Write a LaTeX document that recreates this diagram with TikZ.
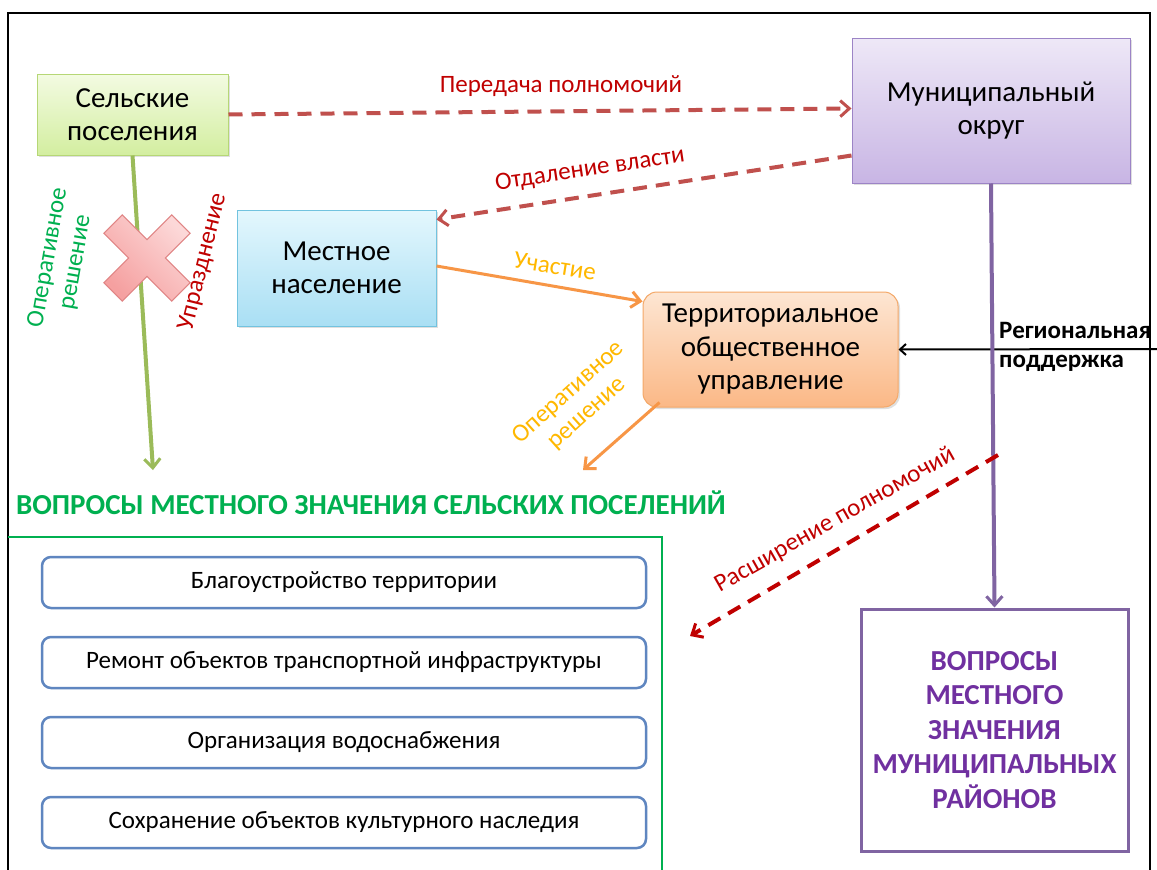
\documentclass[tikz,border=0pt]{standalone}
\usepackage{fontspec}
\setmainfont{Carlito}
\usetikzlibrary{arrows.meta,shadows}
\definecolor{sgTop}{HTML}{F3FBE2}
\definecolor{sgBot}{HTML}{D3EEA0}
\definecolor{sgBd}{HTML}{B6D776}
\definecolor{moTop}{HTML}{EEE8F7}
\definecolor{moBot}{HTML}{C8B5E4}
\definecolor{moBd}{HTML}{9C84C6}
\definecolor{mnTop}{HTML}{E4F7FD}
\definecolor{mnBot}{HTML}{A9DFF4}
\definecolor{mnBd}{HTML}{72C3DF}
\definecolor{toTop}{HTML}{FDE6D3}
\definecolor{toBot}{HTML}{FBB886}
\definecolor{toBd}{HTML}{F4A868}
\definecolor{crTop}{HTML}{FCD8D8}
\definecolor{crBot}{HTML}{F5A0A0}
\definecolor{crBd}{HTML}{E08585}
\definecolor{dred}{HTML}{C0504D}
\definecolor{tred}{HTML}{C00000}
\definecolor{lgreen}{HTML}{9BBB59}
\definecolor{tgreen}{HTML}{00B050}
\definecolor{oarrow}{HTML}{F79646}
\definecolor{gold}{HTML}{FFB800}
\definecolor{purp}{HTML}{8064A2}
\definecolor{tpurp}{HTML}{7030A0}
\definecolor{iblue}{HTML}{5F86C0}
\tikzset{
  mainbox/.style={draw, line width=1pt, align=center, inner sep=2pt,
    font=\fontsize{29}{33.5}\selectfont,
    drop shadow={shadow xshift=2pt, shadow yshift=-2pt, opacity=0.25}},
  item/.style={draw=iblue, line width=2.5pt, rounded corners=9pt, fill=white,
    minimum width=604pt, minimum height=51pt, font=\fontsize{25}{28}\selectfont},
  lbl/.style={font=\fontsize{25}{28}\selectfont, align=center, inner sep=0pt},
  dline/.style={line width=4pt, dash pattern=on 14pt off 9pt},
  barb/.style={-{Straight Barb[length=9pt,width=16pt,line width=3pt]}},
}
\begin{document}
\begin{tikzpicture}[x=1pt,y=-1pt]
\useasboundingbox (0,0) rectangle (1157,870);
\fill[white] (0,0) rectangle (1157,870);
\draw[line width=1.5pt] (8,13) rectangle (1150,885);

% main boxes
\node[mainbox, top color=sgTop, bottom color=sgBot, draw=sgBd,
  minimum width=191pt, minimum height=81pt] (sp) at (132.5,114.5) {Сельские\\поселения};
\node[mainbox, top color=moTop, bottom color=moBot, draw=moBd,
  minimum width=278pt, minimum height=145pt] (mo) at (991,110.5) {Муниципальный\\округ};
\node[mainbox, top color=mnTop, bottom color=mnBot, draw=mnBd,
  minimum width=199pt, minimum height=116pt] (mn) at (336.5,268) {Местное\\население};
\node[mainbox, top color=toTop, bottom color=toBot, draw=toBd, rounded corners=14pt,
  minimum width=255pt, minimum height=115pt] (tos) at (770.5,349.5) {Территориальное\\общественное\\управление};

\node[draw=purp, line width=3pt, minimum width=267pt, minimum height=242pt,
  align=center, text=tpurp, font=\fontsize{29}{34.5}\selectfont\bfseries] (mr) at (994.5,730)
  {ВОПРОСЫ\\МЕСТНОГО\\ЗНАЧЕНИЯ\\МУНИЦИПАЛЬНЫХ\\РАЙОНОВ};

% settlement issues
\node[text=tgreen, font=\fontsize{29}{32}\selectfont\bfseries, inner sep=0pt] (title) at (371,503)
  {ВОПРОСЫ МЕСТНОГО ЗНАЧЕНИЯ СЕЛЬСКИХ ПОСЕЛЕНИЙ};
\draw[tgreen, line width=2pt] (8,537) -- (662,537) -- (662,885);
\node[item] (i1) at (344,582.5) {Благоустройство территории};
\node[item] (i2) at (344,662.5) {Ремонт объектов транспортной инфраструктуры};
\node[item] (i3) at (344,742.5) {Организация водоснабжения};
\node[item] (i4) at (344,822.5) {Сохранение объектов культурного наследия};

% coordinates
\coordinate (gEnd) at (153,470);
\coordinate (oEnd) at (583,470);
\coordinate (rEdge) at (1157,349);
\coordinate (rsStart) at (998,455);
\coordinate (rsEnd) at (690,636);

% connectors
\draw[lgreen, line width=4pt, barb] (sp.south) -- (gEnd);
\draw[dred, dline, barb] (sp.east) -- ([yshift=2pt]mo.west);
\draw[dred, dline, barb] ([yshift=28pt]mo.south west) -- ([yshift=-10pt]mn.north east);
\draw[oarrow, line width=3pt, barb] ([yshift=2pt]mn.east) -- ([yshift=-10pt]tos.north west);
\draw[oarrow, line width=3pt, barb] ([xshift=17pt,yshift=5pt]tos.south west) -- (oEnd);
\draw[black, line width=2pt, -{Straight Barb[length=6pt,width=11pt,line width=2pt]}] (rEdge) -- (tos.east);
\draw[purp, line width=4pt, barb] (mo.south) -- (mr.north);
\draw[tred, dline, barb] (rsStart) -- (rsEnd);

% cross
\begin{scope}[shift={(147,258)}, rotate=45]
\draw[crBd, line width=1pt, top color=crTop, bottom color=crBot, shading angle=-45]
  (13,48) -- (13,13) -- (48,13) -- (48,-13) -- (13,-13) -- (13,-48) -- (-13,-48)
  -- (-13,-13) -- (-48,-13) -- (-48,13) -- (-13,13) -- (-13,48) -- cycle;
\end{scope}

% labels
\node[lbl, text=tred] (l1) at (561,86) {Передача полномочий};
\node[lbl, text=tred, rotate=8.5] (l2) at (590,170) {Отдаление власти};
\node[lbl, text=gold, rotate=-9] (l3) at (555,266) {Участие};
\node[lbl, text=gold, rotate=42] (l4) at (578,403) {Оперативное\\решение};
\node[lbl, text=tgreen, rotate=80] (l5) at (62,260) {Оперативное\\решение};
\node[lbl, text=tred, rotate=76] (l6) at (203,262) {Упразднение};
\node[lbl, text=tred, rotate=29.5] (l7) at (835,520) {Расширение полномочий};
\node[anchor=west, align=left, inner sep=0pt, font=\fontsize{25}{29}\selectfont\bfseries] (l8) at (999,347)
  {Региональная\\поддержка};
\end{tikzpicture}
\end{document}
